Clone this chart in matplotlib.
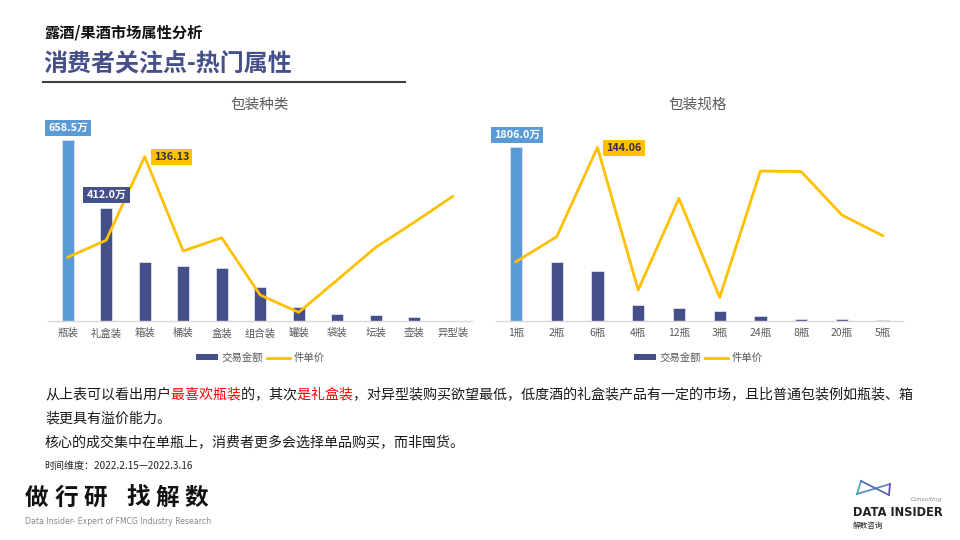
import matplotlib
matplotlib.use("Agg")
import matplotlib.pyplot as plt
from matplotlib.lines import Line2D
from matplotlib.patches import Patch
from matplotlib.transforms import Bbox

plt.rcParams['font.family'] = ['Noto Sans CJK SC', 'DejaVu Sans']

# ---------------- data ----------------
cat1 = ["瓶装", "礼盒装", "箱装", "桶装", "盒装", "组合装", "罐装", "袋装", "坛装", "壶装", "异型装"]
amt1 = [658.5, 412.0, 216, 199, 193, 125, 52, 24, 23, 13, 1]
price1 = [52.8, 66.9, 136.13, 58, 69, 21.5, 7.2, 34, 61, 81.8, 103.3]

cat2 = ["1瓶", "2瓶", "6瓶", "4瓶", "12瓶", "3瓶", "24瓶", "8瓶", "20瓶", "5瓶"]
amt2 = [1806.0, 610, 517, 163, 135, 107, 52, 24, 21, 14]
price2 = [49.2, 69.9, 144.06, 25.7, 101.7, 19.6, 124.4, 124, 87.9, 70.8]

legend_labels = ["交易金额", "件单价"]

NAVY = "#454F8A"
LBLUE = "#5B9BD5"
YEL = "#FFC000"
GRAY = "#595959"

W, H = 960, 540
fig = plt.figure(figsize=(9.6, 5.4), dpi=100)


def fx(px):
    return px / W


def fy(py):
    return 1 - py / H


def panel(rect, cats, amts, prices, ylim1, ylim2, title, title_x, amt_lab_pos, price_lab_pos, legend_x, bw):
    ax = fig.add_axes(rect)
    x = list(range(len(cats)))
    colors = [LBLUE] + [NAVY] * (len(cats) - 1)
    ax.bar(x, amts, width=bw, color=colors, edgecolor="#DDE0EE", linewidth=0.6, zorder=2)
    ax.set_xlim(-0.5, len(cats) - 0.5)
    ax.set_ylim(0, ylim1)
    ax.set_xticks(x)
    ax.set_xticklabels(cats, fontsize=7.5, color=GRAY)
    ax.tick_params(axis='x', length=0, pad=5)
    ax.set_yticks([])
    for s in ["top", "right", "left"]:
        ax.spines[s].set_visible(False)
    ax.spines["bottom"].set_color("#D9D9D9")
    ax.spines["bottom"].set_linewidth(1.0)
    ax.patch.set_alpha(0)

    ax2 = ax.twinx()
    ax2.plot(x, prices, color=YEL, lw=2.0, zorder=3)
    ax2.set_ylim(0, ylim2)
    ax2.set_yticks([])
    for s in ["top", "right", "left", "bottom"]:
        ax2.spines[s].set_visible(False)

    fig.text(fx(title_x), fy(105), title, ha="center", va="center", fontsize=10.5, color=GRAY)

    # data labels
    for (i, px, py, fc, tc) in amt_lab_pos:
        fig.text(fx(px), fy(py), f"{amts[i]:.1f}万", ha="center", va="center", fontsize=7.8,
                 fontweight="bold", color=tc,
                 bbox=dict(boxstyle="square,pad=0.3", fc=fc, ec="none"))
    (i, px, py) = price_lab_pos
    fig.text(fx(px), fy(py), f"{prices[i]:.2f}", ha="center", va="center", fontsize=7.8,
             fontweight="bold", color="#333333",
             bbox=dict(boxstyle="square,pad=0.3", fc=YEL, ec="none"))

    handles = [Patch(facecolor=NAVY, edgecolor="none"),
               Line2D([0], [0], color=YEL, lw=2.0)]
    fig.legend(handles, legend_labels, loc="center", bbox_to_anchor=(fx(legend_x), fy(358)),
               ncol=2, frameon=False, fontsize=7.5, handlelength=2.2, handleheight=0.5,
               columnspacing=0.4, handletextpad=0.3, labelcolor=GRAY)
    return ax


panel([fx(48.4), fy(321), fx(472 - 48.4), (321 - 125) / H],
      cat1, amt1, price1, 713, 162.4, "包装种类", 260,
      [(0, 68, 128, LBLUE, "white"), (1, 106.5, 195, NAVY, "white")],
      (2, 171.5, 157), 260, 0.31)

panel([fx(495.6), fy(321), fx(903 - 495.6), (321 - 125) / H],
      cat2, amt2, price2, 2038, 162.6, "包装规格", 698,
      [(0, 517, 135, LBLUE, "white")],
      (2, 624, 148), 698, 0.30)

# ---------------- header ----------------
fig.text(fx(44), fy(33), "露酒/果酒市场属性分析", ha="left", va="center", fontsize=11,
         fontweight="bold", color="#111111")
fig.text(fx(43), fy(64), "消费者关注点-热门属性", ha="left", va="center", fontsize=17.3,
         fontweight="bold", color="#454F8A")
fig.add_artist(Line2D([fx(43), fx(405)], [fy(82), fy(82)], color="#404040", lw=1.5))

# ---------------- body text ----------------
BODY_FS = 10.1
renderer = fig.canvas.get_renderer()

# measure the real advance of a full-width character at this size
_t1 = fig.text(0, 0, "一" * 20, fontsize=BODY_FS)
_t2 = fig.text(0, 0, "一" * 10, fontsize=BODY_FS)
ADV = (_t1.get_window_extent(renderer).width - _t2.get_window_extent(renderer).width) / 10.0
_t1.remove()
_t2.remove()


def rich_line(x_px, y_px, segments):
    full = "".join(s for s, _ in segments)
    probe = fig.text(fx(x_px), fy(y_px), full, ha="left", va="center", fontsize=BODY_FS)
    bb = probe.get_window_extent(renderer)
    probe.remove()
    origin = bb.x0 - (len(full) * ADV - bb.width) / 2.0
    n = 0
    for txt, col in segments:
        t = fig.text(fx(x_px), fy(y_px), full, ha="left", va="center", fontsize=BODY_FS, color=col)
        x0 = origin + n * ADV if n > 0 else bb.x0 - 5
        n += len(txt)
        x1 = origin + n * ADV if n < len(full) else bb.x1 + 5
        t.set_clip_box(Bbox([[x0, bb.y0 - 5], [x1, bb.y1 + 5]]))
        t.set_clip_on(True)


RED = "#FF0000"
BLK = "#1A1A1A"
rich_line(45, 395, [("从上表可以看出用户", BLK), ("最喜欢瓶装", RED), ("的，其次", BLK), ("是礼盒装", RED),
                    ("，对异型装购买欲望最低，低度酒的礼盒装产品有一定的市场，且比普通包装例如瓶装、箱", BLK)])
rich_line(45, 418, [("装更具有溢价能力。", BLK)])
rich_line(45, 443, [("核心的成交集中在单瓶上，消费者更多会选择单品购买，而非囤货。", BLK)])

# ---------------- footer ----------------
fig.text(fx(44), fy(466), "时间维度：2022.2.15—2022.3.16", ha="left", va="center", fontsize=7.2,
         color="#222222")
for ch, cx in zip("做行研找解数", [37, 66, 95, 138, 167, 196]):
    fig.text(fx(cx), fy(498), ch, ha="center", va="center", fontsize=17, fontweight="bold",
             color="#111111")
fig.text(fx(25), fy(522), "Data Insider- Expert of FMCG Industry Research", ha="left", va="center",
         fontsize=5.6, color="#888888", family="DejaVu Sans")

# logo
pts = [(861, 481), (857, 494), (890, 484), (889, 495), (861, 481)]
cols = ["#4FA8B0", "#5B8FB8", "#6A4FB0", "#5A6AB4"]
for (a, b), c in zip(zip(pts[:-1], pts[1:]), cols):
    fig.add_artist(Line2D([fx(a[0]), fx(b[0])], [fy(a[1]), fy(b[1])], color=c, lw=1.3))
fig.text(fx(942), fy(500), "Consulting", ha="right", va="center", fontsize=4.2, color="#888888",
         style="italic", family="DejaVu Sans")
fig.text(fx(853), fy(512), "DATA INSIDER", ha="left", va="center", fontsize=8.3, fontweight="bold",
         color="#222222", family="DejaVu Sans")
fig.text(fx(853), fy(526), "解数咨询", ha="left", va="center", fontsize=5.5, color="#222222")

fig.savefig("out.png", dpi=100)
